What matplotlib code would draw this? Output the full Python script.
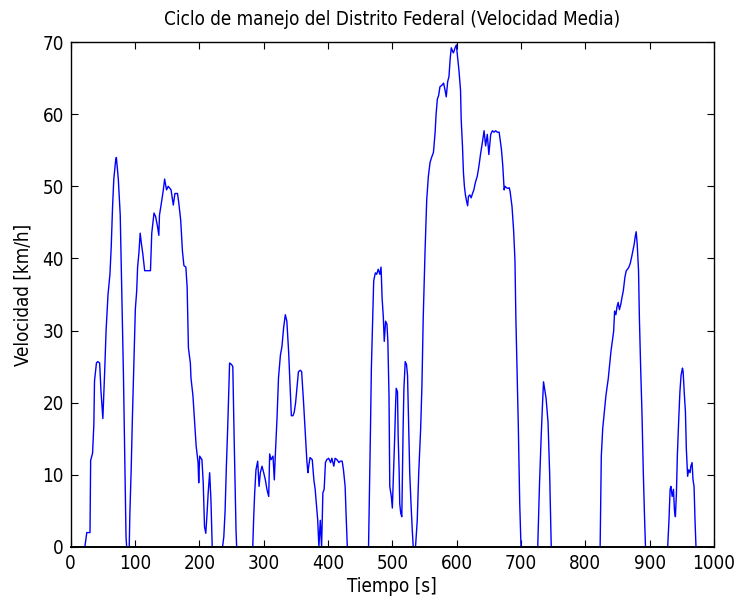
import matplotlib
matplotlib.use("Agg")
import matplotlib.pyplot as plt
from matplotlib import font_manager

# (time [s], speed [km/h]) pairs, one list per driving micro-trip
tramo_1 = [(0, 0), (22, 0), (25, 2), (30, 2), (31, 12), (34, 13), (36, 17), (37, 23), (40, 25.5), (42, 25.7),
           (45, 25.5), (47, 21.7), (50, 17.8), (53, 24.8), (55, 30), (58, 35), (61, 37.8), (63, 41.6), (65, 47),
           (67, 51), (70, 53.7), (71, 54), (74, 51), (77, 46), (79, 37), (82, 23.8), (86, 1.4), (87, 0)]
tramo_2 = [(91, 0), (92, 4.7), (94, 10.7), (96, 18.2), (99, 28), (100.5, 33), (102.6, 35.5), (104, 38.8),
           (106, 40.7), (108, 43.5), (110, 42), (112, 40.7), (115, 38.3), (124, 38.3), (126, 43.5), (129.5, 46.3),
           (132, 45.8), (135, 44.4), (137, 43.2), (138, 46), (141, 47.7), (144, 49.5), (146, 51), (149, 49.5),
           (151.6, 50), (156, 49.5), (159.5, 47.4), (162, 49), (166, 49), (168, 47.7), (171, 45.3), (173.7, 41),
           (176, 39), (179, 38.8), (181, 36), (183, 27.6), (186, 25.5), (187, 23.4), (190, 21), (192, 18.2),
           (195, 14), (198, 11.7), (199, 8.9), (200.5, 12.6), (204, 12.1), (206, 8.9), (208, 2.8), (210, 1.9),
           (212, 4.7), (213.7, 7.5), (216, 10.3), (218, 6.5), (220, 0)]
tramo_3 = [(236, 0), (238, 1.4), (240, 5), (242, 11.2), (244, 16.4), (246, 22.4), (247, 25.5), (250, 25.3),
           (252, 25), (254, 15.4), (257, 2.3), (258, 0)]
tramo_4 = [(283, 0), (284.5, 4.2), (286, 7.5), (288, 10.7), (290.7, 11.9), (292.8, 8.4), (294.8, 10.3),
           (297.4, 11.2), (300, 10.3), (302.6, 9.3), (305, 8), (307.8, 7), (309.3, 12.9), (311.4, 12.1),
           (314.5, 12.6), (316.5, 9.3), (318, 12.6), (320.7, 17.8), (323, 23.4), (326, 26.6), (328.4, 27.8),
           (331, 30.4), (333.6, 32.2), (336, 31.3), (338.8, 27), (341, 22.4), (343, 18.2), (345.5, 18.2),
           (347.5, 18.7), (349.6, 20), (351.7, 22), (354, 24.3), (357, 24.5), (359, 24.3), (362, 20),
           (364.6, 15.9), (367, 12.1), (368.7, 10.3), (370, 11.2), (372, 12.4), (375.5, 12.1), (378, 9.3),
           (380, 8), (382.7, 5.1), (384, 3.7), (385.8, 0), (388, 3.7), (390, 0), (392, 7.5), (394, 8),
           (396, 11.7), (398, 12.1), (401, 12.3), (404, 11.7), (406, 12.3), (409, 11.2), (411, 12.3),
           (414, 12.1), (417, 11.7), (419, 11.9), (422, 11.9), (424, 10.7), (426.6, 8.4), (428, 4.7), (430, 0)]
tramo_5 = [(463, 0), (465, 10.7), (466, 16.4), (467.4, 24.8), (469.5, 31.8), (471, 36.9), (473.6, 38),
           (475.7, 37.8), (478, 38.5), (480.6, 37.8), (482.4, 38.8), (483, 37.4), (484, 34.6), (486, 31.8),
           (487.4, 28.5), (489.5, 31.3), (491.6, 30.9), (493, 28.5), (494.8, 21), (496, 8.4), (498.4, 7),
           (500, 5.4), (502, 10.7), (503.7, 15.4), (505, 19.6), (506, 22), (508, 21.5), (509, 15.4),
           (510.5, 10.7), (511.5, 6), (513, 4.7), (514.7, 4.2), (516.8, 16.8), (518, 22), (520, 25.7),
           (522, 25.3), (523.6, 23.8), (525.7, 15.4), (527, 10.3), (529, 6), (531, 2.3), (532.5, 0)]
tramo_6 = [(536, 0), (538.7, 3.7), (541, 10.3), (544, 16.4), (546, 22.4), (548, 31.8), (550.8, 40.9),
           (553.4, 48.1), (556, 51.4), (558.6, 53.3), (561, 54), (563.9, 54.7), (566.5, 57.5), (568, 60),
           (570, 62.1), (572, 62.6), (574, 63.8), (577, 64), (579.6, 64.3), (582, 63.3), (583.8, 62.4),
           (586, 64.5), (588, 65.2), (590, 67.8), (591.6, 69.2), (593.7, 68.7), (595, 68.5), (597.5, 69.2),
           (599.5, 69.6), (601.6, 67.8), (603.7, 65.9), (606, 63.3), (607, 59.3), (609, 55.6), (610.5, 51.9),
           (612, 50), (613.6, 48.8), (615, 48.1), (617, 47.3), (618.3, 48.6), (620.4, 48.8), (622.5, 48.4),
           (624.6, 49), (626.7, 49.5), (629, 50.5), (632, 51.4), (634.6, 52.8), (637, 54.4), (640, 56.1),
           (642.6, 57.7), (645, 55.6), (647.6, 57.2), (650, 54.4), (652.9, 57.2), (655.5, 57.7), (658, 57.5),
           (660.7, 57.7), (663, 57.5), (666, 57.5), (667.5, 56.5), (669.6, 55.1), (671.7, 52.8), (673.8, 49.5),
           (675, 50), (677.5, 49.8), (680, 49.7), (681.7, 49.8), (683, 49.3), (686, 47.2), (688.5, 43.9),
           (690.6, 39.7), (692, 31.8), (693.7, 24.8), (695.8, 16.8), (698, 6), (700, 0)]
tramo_7 = [(726, 0), (728.8, 8.9), (731.4, 15.4), (733.5, 20), (735, 22.9), (736.6, 22), (739, 20.6),
           (742, 17.3), (744.5, 10.3), (747, 0)]
tramo_8 = [(823, 0), (824.8, 12.6), (827, 16.4), (830, 19.2), (832, 21), (833.6, 22), (835.7, 23.4),
           (837.7, 25.2), (839.8, 27.1), (841.9, 28.5), (844, 29.9), (845.5, 32.7), (847.5, 32.2), (849, 33.2),
           (851, 33.9), (853, 32.9), (855, 33.6), (857, 34.6), (859, 35.5), (861.5, 37.4), (863.6, 38.3),
           (865.6, 38.5), (867.7, 38.8), (869.8, 39.3), (872, 40.2), (874, 41.1), (876, 42), (877.5, 43),
           (879, 43.7), (880.6, 42), (882.7, 38.3), (884, 31.8), (886, 24.8), (888, 18.7), (890, 10.7),
           (892, 4.2), (893.5, 0)]
tramo_9 = [(928, 0), (930, 3.7), (931.8, 8), (933, 8.4), (935, 7), (937, 8), (938.5, 5.1), (940, 4.2),
           (941.6, 7.5), (943, 12.6), (945, 17.3), (947, 21.5), (948.8, 23.8), (951, 24.8), (952, 24.3),
           (954, 21), (955.6, 18.7), (957, 13.6), (959, 9.8), (960.7, 10.7), (962.8, 10.3), (964, 11.2),
           (965.9, 11.7), (967.4, 9.3), (969, 8.4), (970.5, 3.7), (972, 0), (980, 0)]

x_ticks = [0, 100, 200, 300, 400, 500, 600, 700, 800, 900, 1000]
y_ticks = [0, 10, 20, 30, 40, 50, 60, 70]

tramos = [tramo_1, tramo_2, tramo_3, tramo_4, tramo_5, tramo_6, tramo_7, tramo_8, tramo_9]
tiempo = [p[0] for t in tramos for p in t]
velocidad = [p[1] for t in tramos for p in t]

# pick a narrow sans font if one is installed (the reference uses a condensed Helvetica look)
fp = None
for f in font_manager.fontManager.ttflist:
    nm = (f.name + " " + str(f.fname)).lower()
    if ('narrow' in nm or 'condensed' in nm) and 'bold' not in nm and 'italic' not in nm and 'oblique' not in nm:
        if fp is None or 'liberation' in nm:
            fp = f.fname
if fp is not None:
    font_manager.fontManager.addfont(fp)
    base = font_manager.FontProperties(fname=fp)
else:
    base = font_manager.FontProperties(family='Liberation Sans')

fs = 13.5
fig = plt.figure(figsize=(7.35, 6.06), dpi=100)
ax = fig.add_axes([70.7 / 735, (606 - 547) / 606, (714 - 70.7) / 735, (547 - 42) / 606])
ax.plot(tiempo, velocidad, color='#0000ff', linewidth=1.0, zorder=2)
ax.set_xlim(0, 1000)
ax.set_ylim(0, 70)
ax.set_xticks(x_ticks)
ax.set_yticks(y_ticks)
ax.tick_params(direction='in', length=5, width=0.8, top=True, right=True)
ax.tick_params(axis='x', pad=5)
ax.tick_params(axis='y', pad=5)
for lab in ax.get_xticklabels() + ax.get_yticklabels():
    lab.set_fontproperties(base)
    lab.set_fontsize(fs)
for s in ax.spines.values():
    s.set_linewidth(1.0)
    s.set_zorder(3)
ax.spines['bottom'].set_linewidth(1.4)
ax.set_xlabel('Tiempo [s]', fontproperties=base, fontsize=fs, labelpad=3)
ax.set_ylabel('Velocidad [km/h]', fontproperties=base, fontsize=fs, labelpad=7)
ax.set_title('Ciclo de manejo del Distrito Federal (Velocidad Media)', fontproperties=base, fontsize=fs, pad=12.5)
fig.savefig('out.png', dpi=100)
